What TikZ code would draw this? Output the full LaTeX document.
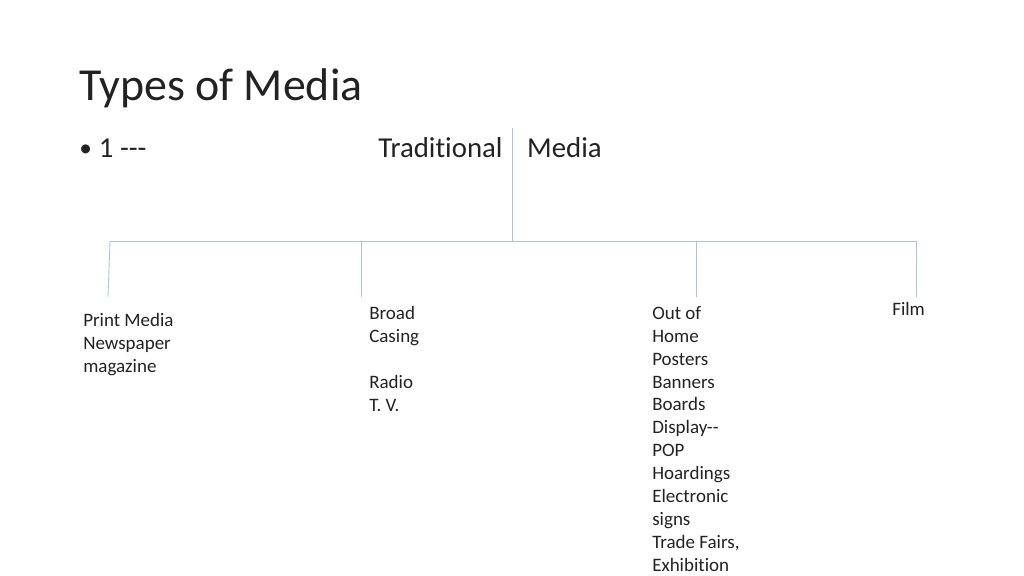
\documentclass[tikz,border=0pt]{standalone}
\usepackage{fontspec}
\setmainfont{Carlito}[Ligatures={TeXOff,NoCommon}]
\usepackage{tikz}
\usetikzlibrary{positioning}
\definecolor{linkblue}{HTML}{A9C3DA}
\definecolor{inkgray}{HTML}{222222}

\begin{document}
\begin{tikzpicture}[x=0.025cm, y=-0.025cm]
  % pixel grid, y grows downward
  \tikzstyle{every node}=[inner sep=0pt, text=inkgray]
  \tikzstyle{branch}=[draw=linkblue, line width=0.6pt]
  \tikzstyle{leaf}=[anchor=north west, align=left, font=\fontsize{13.5}{16.3}\selectfont]
  \useasboundingbox (0,0) rectangle (1024,576);

  \node[anchor=base west, font=\fontsize{32.6}{38}\selectfont] (Title) at (79,101) {Types of Media};
  \node[anchor=base west, font=\fontsize{20.5}{24}\selectfont] (Bullet) at (79,158) {\raisebox{1.2pt}{\fontsize{18}{20}\selectfont\textbullet}\hspace{5pt}1 ---};
  \node[anchor=base west, font=\fontsize{20.5}{24}\selectfont] (Trad) at (378,158) {Traditional\hspace{17.5pt}Media};

  % tree joints
  \coordinate (Root) at (512,128);
  \coordinate (Fork) at (512,241);
  \coordinate (PrintTop) at (110,241);
  \coordinate (BroadTop) at (361,241);
  \coordinate (OutTop) at (696,241);
  \coordinate (FilmTop) at (916,241);
  \coordinate (PrintEnd) at (108,297);
  \coordinate (BroadEnd) at (361,297);
  \coordinate (OutEnd) at (696,297);
  \coordinate (FilmEnd) at (916,297);

  \node[leaf] (Print) at (83,313) {Print Media\\Newspaper\\magazine};
  \node[leaf] (Broad) at (369,306) {Broad\\Casing\\[16.3pt]Radio\\T. V.};
  \node[leaf] (Out) at (652,306) {Out of\\Home\\Posters\\Banners\\Boards\\Display--\\POP\\Hoardings\\Electronic\\signs\\Trade Fairs,\\Exhibition};
  \node[leaf] (Film) at (892,302) {Film};

  \draw[branch] (Root) -- (Fork);
  \draw[branch] (PrintTop) -- (FilmTop);
  \draw[branch] (PrintTop) -- (PrintEnd);
  \draw[branch] (BroadTop) -- (BroadEnd);
  \draw[branch] (OutTop) -- (OutEnd);
  \draw[branch] (FilmTop) -- (FilmEnd);
\end{tikzpicture}
\end{document}
